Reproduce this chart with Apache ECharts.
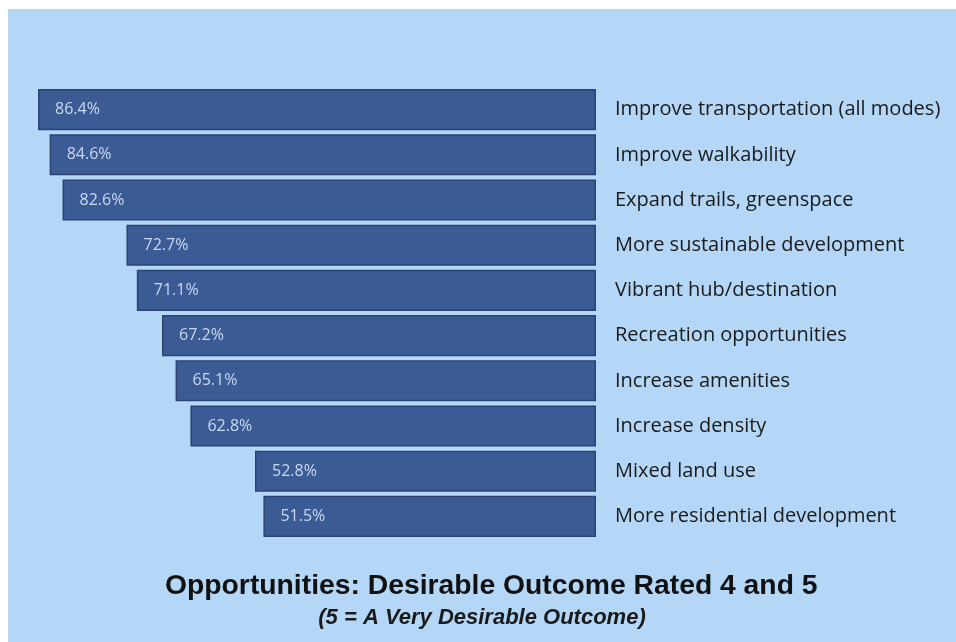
<!DOCTYPE html>
<html>
<head>
<meta charset="utf-8">
<script src="https://cdn.jsdelivr.net/npm/echarts@6/dist/echarts.min.js"></script>
<style>
html,body{margin:0;padding:0;background:#ffffff;}
#chart{position:absolute;left:8px;top:9px;width:948px;height:633px;}
</style>
</head>
<body>
<div id="chart"></div>
<script>
const categories = [
  "Improve transportation (all modes)",
  "Improve walkability",
  "Expand trails, greenspace",
  "More sustainable development",
  "Vibrant hub/destination",
  "Recreation opportunities",
  "Increase amenities",
  "Increase density",
  "Mixed land use",
  "More residential development"
];
const values = [86.4, 84.6, 82.6, 72.7, 71.1, 67.2, 65.1, 62.8, 52.8, 51.5];
const titleText = "Opportunities: Desirable Outcome Rated 4 and 5";
const subtitleText = "(5 = A Very Desirable Outcome)";

const chart = echarts.init(document.getElementById('chart'));
chart.setOption({
  backgroundColor: '#b4d7f7',
  animation: false,
  title: [
    {
      text: titleText,
      left: 152,
      top: 558,
      textStyle: {fontFamily: 'Liberation Sans, Arial, sans-serif', fontWeight: 'bold', fontSize: 28.3, color: '#111111'}
    },
    {
      text: subtitleText,
      left: 'center',
      top: 593,
      textStyle: {fontFamily: 'Liberation Sans, Arial, sans-serif', fontWeight: 'bold', fontStyle: 'italic', fontSize: 22, color: '#1a1a1a'}
    }
  ],
  grid: {left: 30, right: 360, top: 78, height: 452, containLabel: false},
  xAxis: {
    type: 'value',
    inverse: true,
    min: 0,
    max: 'dataMax',
    show: false
  },
  yAxis: {
    type: 'category',
    data: categories,
    inverse: true,
    position: 'right',
    axisLine: {show: false},
    axisTick: {show: false},
    axisLabel: {
      margin: 19,
      align: 'left',
      fontFamily: 'Open Sans, sans-serif',
      fontSize: 20,
      color: '#1a1a1a'
    }
  },
  series: [{
    type: 'bar',
    data: values,
    barCategoryGap: '9%',
    itemStyle: {color: '#3b5b95', borderColor: '#2b4372', borderWidth: 1.5},
    label: {
      show: true,
      position: 'insideLeft',
      distance: 17,
      formatter: p => p.value.toFixed(1) + '%',
      fontFamily: 'Open Sans, sans-serif',
      fontSize: 16,
      color: '#cbd9f0'
    }
  }]
});
</script>
</body>
</html>
